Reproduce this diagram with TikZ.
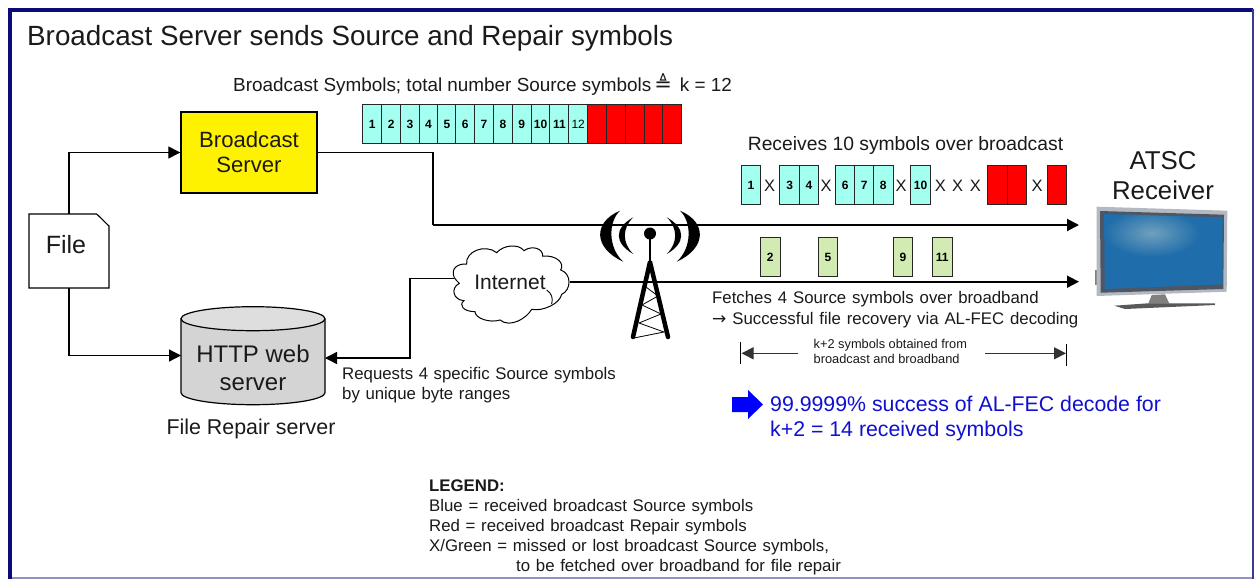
\documentclass[tikz,border=0pt]{standalone}
\usepackage{fontspec}
\usetikzlibrary{arrows.meta,calc}
\setmainfont{Liberation Sans}
\newfontfamily\symfont{DejaVu Sans}
\newcommand{\fsz}[1]{\fontsize{#1pt}{#1pt}\selectfont}
\definecolor{framec}{HTML}{0A0A78}
\definecolor{srcc}{HTML}{A3FFF0}
\definecolor{repc}{HTML}{FF0000}
\definecolor{grnc}{HTML}{D2EBB2}
\definecolor{blutx}{HTML}{1010D0}
\definecolor{txtc}{HTML}{1A1A1A}
\definecolor{tvsilver}{HTML}{B4B8C0}
\definecolor{tvbezel}{HTML}{4E5664}
\definecolor{tvscreen}{HTML}{1F6DAA}
\definecolor{tvglow}{HTML}{6FA0BD}
\tikzset{
 x=1pt,y=-1pt,
 lbl/.style={inner sep=0pt,text=txtc,align=left},
 clbl/.style={inner sep=0pt,text=txtc,align=center},
 sym/.style={draw=black!85,line width=1.1pt,minimum height=39pt,inner sep=0pt,font=\fsz{12}\bfseries,anchor=north west},
 src/.style={sym,fill=srcc},
 rep/.style={sym,fill=repc},
 grn/.style={sym,fill=grnc},
 xm/.style={inner sep=0pt,font=\fsz{16.5},text=txtc},
 conn/.style={draw=black,line width=1.3pt},
 tip/.style={-{Triangle[length=12pt,width=12pt]}},
}
\begin{document}
\begin{tikzpicture}
\useasboundingbox (0,0) rectangle (1254,579);
\fill[white] (0,0) rectangle (1254,579);
% frame
\draw[framec!45!white,line width=1.5pt] (10,578) -- (1253,578);
\draw[framec,line width=3.5pt] (10,579) -- (10,10) -- (1253,10);
\draw[framec!80!white,line width=2.5pt] (1253,8.5) -- (1253,579);
% title
\node[lbl,anchor=west,font=\fsz{27.8}] (title) at (27,38.5) {Broadcast Server sends Source and Repair symbols};
\node[lbl,anchor=west,font=\fsz{18.9}] (bs) at (233,84.5) {Broadcast Symbols; total number Source symbols{\symfont\fsz{21}\kern3pt≜}\kern8pt k = 12};
% source row
\foreach \a/\b/\t [count=\i] in {362.3/381/1,381/400.3/2,400.3/418.7/3,418.7/437.3/4,437.3/455.3/5,455.3/474/6,474/493/7,493/511.7/8,511.7/530.7/9,530.7/549.3/10,549.3/568.3/11}{
  \node[src,minimum width=\b pt-\a pt] (s\i) at (\a,104) {\t};
}
\node[src,minimum width=18.7pt,font=\fsz{12}] (s12) at (568.3,104) {12};
\foreach \a/\b [count=\i] in {587/605.7,605.7/625,625/643.7,643.7/662.3,662.3/681.3}{
  \node[rep,minimum width=\b pt-\a pt] (r\i) at (\a,104) {};
}
% received row
\node[clbl,font=\fsz{19.3}] (rx) at (905.5,145.5) {Receives 10 symbols over broadcast};
\foreach \a/\t in {740.7/1,779.3/3,798.7/4,835/6,854/7,873/8,910.3/10}{
  \node[src,minimum width=19.5pt] (q\t) at (\a,165) {\t};
}
\foreach \a/\n in {987/a,1006.8/b,1046.7/c}{
  \node[rep,minimum width=19.5pt] (q\n) at (\a,165) {};
}
\foreach \a [count=\i] in {769.7,826,901,940.3,957.7,975.3,1037}{
  \node[xm] (x\i) at (\a,186) {X};
}
% green
\foreach \a/\t in {760/2,817.7/5,892.7/9,932/11}{
  \node[grn,minimum width=19.5pt] (g\t) at (\a,237.3) {\t};
}
% main blocks
\node[draw=black,line width=1.4pt,fill=yellow,clbl,minimum width=136pt,minimum height=81pt,font=\fsz{22.1}] (bsrv) at (249,152.5) {Broadcast\\[3pt]Server};
% file
\coordinate (filetop) at (69,214);
\coordinate (filebot) at (69,288);
\draw[black,line width=1.1pt,fill=white] (29,214) -- (96.7,214) -- (109,226) -- (109,288) -- (29,288) -- cycle;
\node[clbl,font=\fsz{25}] (file) at (66,244.5) {File};
% cylinder
\fill[black!17] (181,318.7) -- (181,392.7) arc[start angle=180,end angle=0,x radius=72,y radius=12] -- (325,318.7) -- cycle;
\draw[black,line width=1.2pt] (181,318.7) -- (181,392.7) arc[start angle=180,end angle=0,x radius=72,y radius=12] -- (325,318.7);
\draw[black,line width=1.2pt,fill=black!13] (253,318.7) ellipse [x radius=72,y radius=12];
\node[clbl,font=\fsz{24}] (http) at (253,367.5) {HTTP web\\[4pt]server};
\coordinate (httpw) at (181,355.5);
\coordinate (httpe) at (325,358);
\node[clbl,font=\fsz{21.4}] (frs) at (251,429) {File Repair server};
% cloud
\begin{scope}[shift={(400,240)},x=0.3333pt,y=-0.3333pt]
\draw[black,line width=1pt,fill=white] (163,113) .. controls (150,85) and (175,70) .. (200,72)
 .. controls (195,35) and (255,10) .. (290,38)
 .. controls (310,15) and (355,10) .. (372,32)
 .. controls (395,15) and (430,25) .. (428,48)
 .. controls (470,45) and (495,70) .. (482,90)
 .. controls (515,100) and (515,150) .. (485,163)
 .. controls (480,190) and (430,215) .. (395,208)
 .. controls (380,235) and (330,265) .. (300,240)
 .. controls (270,250) and (225,235) .. (225,215)
 .. controls (190,215) and (175,195) .. (192,182)
 .. controls (160,180) and (150,145) .. (178,130)
 .. controls (172,125) and (168,120) .. (163,113) -- cycle;
\draw[black,line width=.9pt] (440,150) .. controls (455,160) and (460,175) .. (455,192);
\end{scope}
\node[clbl,font=\fsz{21}] (inet) at (510,282) {Internet};
\coordinate (cloudw) at (454,278.3);
\coordinate (cloude) at (570,281.7);
% connectors
\coordinate (a1) at (1079,225);
\coordinate (a2) at (1079,281.7);
\coordinate (b1) at (433,152.5);
\coordinate (b2) at (433,225);
\coordinate (c1) at (410,278.3);
\coordinate (c2) at (410,358);
\draw[conn,tip] (filetop) |- (bsrv.west);
\draw[conn,tip] (filebot) |- (httpw);
\draw[conn] (bsrv.east) -- (b1) -- (b2);
\draw[black,line width=2pt,tip] (b2) -- (a1);
\draw[black,line width=1.7pt,tip] (cloude) -- (a2);
\draw[conn,tip] (cloudw) -- (c1) -- (c2) -- (httpe);
% tower
\foreach \s in {1,-1}{
 \begin{scope}[shift={(650,0)},xscale=\s]
  \fill[black] (-30,210.7) .. controls (-57,222) and (-57,248) .. (-26.7,261.7) .. controls (-42,248) and (-42,222) .. (-30,210.7) -- cycle;
  \fill[black] (-16.7,217.3) .. controls (-36,228) and (-36,243) .. (-16.7,254) .. controls (-28,243) and (-28,228) .. (-16.7,217.3) -- cycle;
 \end{scope}
}
\draw[black,line width=.8pt] (646,287) -- (658,296) -- (642,305) -- (661,314) -- (639,323) -- (664,332) -- (634,338);
\draw[black,line width=4.5pt,line cap=round,line join=round] (633,337) -- (650,262) -- (668,337);
\draw[black,line width=2.4pt] (650,234) -- (650,262);
\fill[black] (650,233.5) circle (6);
% notes
\node[lbl,anchor=north west,font=\fsz{16.8}] (req) at (342,367) {\spaceskip=5.6pt Requests 4 specific Source symbols\\[3.2pt]\spaceskip=5.6pt by unique byte ranges};
\node[lbl,anchor=north west,font=\fsz{16.8}] (fet) at (712,291) {\spaceskip=5.9pt Fetches 4 Source symbols over broadband\\[4.2pt]\spaceskip=5.9pt{\symfont\fsz{17}→} Successful file recovery via AL-FEC decoding};
% k+2
\coordinate (k1a) at (740.7,342); \coordinate (k1b) at (740.7,364);
\coordinate (k2a) at (1066.7,344); \coordinate (k2b) at (1066.7,366);
\coordinate (k1m) at (798,353.3); \coordinate (k2m) at (985,353.3);
\node[lbl,anchor=north west,font=\fsz{12.8}] (kt) at (813.5,339.5) {k+2 symbols obtained from\\[2.2pt]broadcast and broadband};
\draw[black,line width=.8pt] (k1a) -- (k1b);
\draw[black,line width=.8pt] (k2a) -- (k2b);
\draw[black!80,line width=1pt,tip] (k1m) -- (741.5,353.3);
\draw[black!80,line width=1pt,tip] (k2m) -- (1066,353.3);
% blue
\fill[blue] (732,397) -- (748,397) -- (748,390) -- (763,404.5) -- (748,419) -- (748,412) -- (732,412) -- cycle;
\node[lbl,text=blutx,anchor=north west,font=\fsz{21.3}] (res) at (770,396) {99.9999\% success of AL-FEC decode for\\[3.7pt]k+2 = 14 received symbols};
% legend
\node[lbl,anchor=north west,font=\fsz{16.8}] (leg) at (429,479.5) {\spaceskip=5.7pt\textbf{LEGEND:}\\[3.2pt]\spaceskip=5.7pt Blue = received broadcast Source symbols\\[3.2pt]\spaceskip=5.7pt Red = received broadcast Repair symbols\\[3.2pt]\spaceskip=5.7pt X/Green = missed or lost broadcast Source symbols,\\[3.2pt]\spaceskip=5.7pt\hspace*{87pt}to be fetched over broadband for file repair};
% receiver
\node[clbl,font=\fsz{25.8}] (atsc) at (1163,175.5) {ATSC\\[4pt]Receiver};
\fill[black!50] (1151.7,295) -- (1165,294.3) -- (1169.3,303.5) -- (1148.3,303.5) -- cycle;
\fill[black!65] (1114.3,305.7) -- (1148,303.3) -- (1215,303.3) -- (1215,305) -- (1125,309) -- cycle;
\fill[black!50] (1095,270) rectangle (1097,285);
\fill[tvsilver] (1096.7,206.7) -- (1227.3,210.7) -- (1226.7,291.7) -- (1096.7,296) -- cycle;
\fill[tvbezel] (1100,211) -- (1224,214.7) -- (1223.3,289) -- (1100.7,292.7) -- cycle;
\begin{scope}
 \clip (1104,214) -- (1222.7,217.3) -- (1222.7,284.3) -- (1104.7,289) -- cycle;
 \fill[tvscreen] (1104,210) rectangle (1224,292);
 \shade[inner color=tvglow,outer color=tvscreen] (1151.7,233) ellipse [x radius=48,y radius=24];
\end{scope}
\end{tikzpicture}
\end{document}
